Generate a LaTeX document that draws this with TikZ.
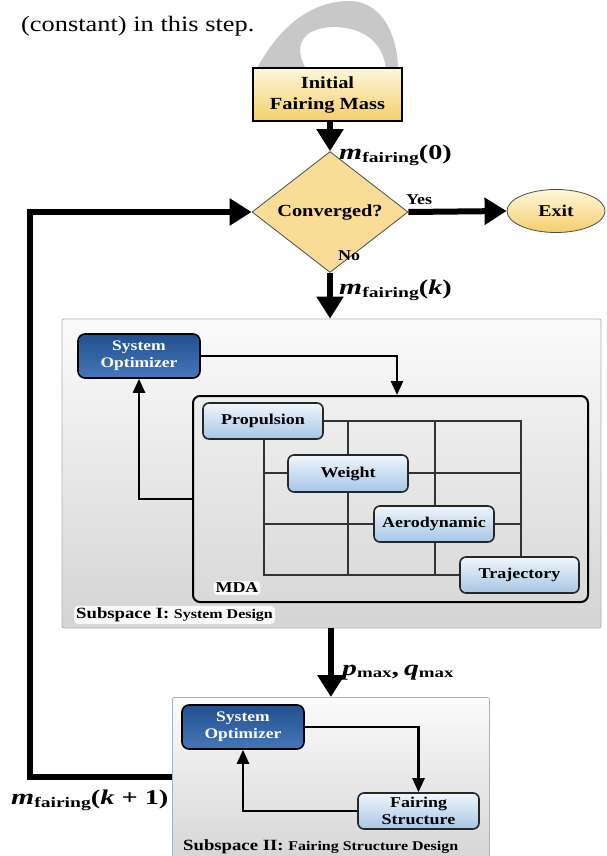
\documentclass[tikz,border=0pt]{standalone}
\usepackage{fontspec}
\setmainfont{Liberation Serif}[FakeStretch=1.2]
\newfontfamily\lblfont{Liberation Serif}[FakeStretch=1.35]
\usetikzlibrary{arrows.meta,shapes.geometric}
\definecolor{ylwT}{HTML}{FFF7D9}
\definecolor{ylwB}{HTML}{F4CE6C}
\definecolor{dia}{HTML}{F9DC95}
\definecolor{panT}{HTML}{FBFBFB}
\definecolor{panB}{HTML}{D4D4D4}
\definecolor{panE}{HTML}{A3B4C6}
\definecolor{blT}{HTML}{22508E}
\definecolor{blB}{HTML}{4677BA}
\definecolor{modT}{HTML}{F0F6FC}
\definecolor{modB}{HTML}{A6C6E6}
\definecolor{wmk}{HTML}{C8C8C8}
\newcommand{\mfair}[1]{{\lblfont\fontsize{22}{22}\selectfont\bfseries\itshape m}\raisebox{-0.6ex}{\lblfont\fontsize{14.5}{14.5}\selectfont\bfseries fairing}{\lblfont\fontsize{21}{21}\selectfont\bfseries(#1)}}
\newcommand{\pqmax}{{\lblfont\fontsize{22}{22}\selectfont\bfseries\itshape p}\raisebox{-0.45ex}{\lblfont\fontsize{14}{14}\selectfont\bfseries max}{\lblfont\fontsize{22}{22}\selectfont\bfseries,\kern5pt\itshape q}\raisebox{-0.45ex}{\lblfont\fontsize{14}{14}\selectfont\bfseries max}}
\tikzset{
  bigarrow/.style={line width=6pt,-{Triangle[width=26pt,length=22pt]}},
  bigline/.style={line width=6pt},
  smallarrow/.style={line width=2.6pt,-{Triangle[width=12pt,length=14pt]}},
  gridline/.style={line width=1.3pt,draw=black!80},
  panel/.style={draw=panE,line width=0.8pt,top color=panT,bottom color=panB,rounded corners=2pt,inner sep=0pt},
  optbox/.style={draw=black,line width=1.6pt,rounded corners=7pt,top color=blT,bottom color=blB,text=white,font=\fontsize{14.6}{17}\selectfont\bfseries,align=center,inner sep=0pt},
  modbox/.style={draw=black!85,line width=1.6pt,rounded corners=6pt,top color=modT,bottom color=modB,font=\fontsize{15}{17}\selectfont\bfseries,align=center,inner sep=0pt},
  flowlbl/.style={inner sep=0pt,anchor=west},
  yesno/.style={font=\fontsize{15}{15}\selectfont\bfseries,inner sep=0pt},
  glow/.style={fill=white,fill opacity=0.85,text opacity=1,rounded corners=4pt,inner sep=2pt}
}
\begin{document}
\begin{tikzpicture}[x=1pt,y=-1pt]
\clip (0,0) rectangle (606,856);
\fill[white] (0,0) rectangle (606,856);
% top text from page
\node[anchor=base west,inner sep=0pt,font=\fontsize{22}{22}\selectfont] (txt) at (21,32) {(constant) in this step.};
% watermark
\fill[wmk] (256,70) .. controls (280,25) and (312,1) .. (350,1) .. controls (385,2) and (398,40) .. (398,70) -- cycle;
\fill[white] (307,70) .. controls (293,48) and (300,28) .. (334,27) .. controls (370,28) and (384,48) .. (386,70) -- cycle;
% top flow
\node[draw=black,line width=1.6pt,top color=ylwT,bottom color=ylwB,minimum width=149pt,minimum height=53pt,inner sep=0pt,align=center,font=\fontsize{17}{21}\selectfont\bfseries] (init) at (327.5,94.5) {Initial\\Fairing Mass};
\node[diamond,draw=black!70,line width=0.8pt,fill=dia,minimum width=156pt,minimum height=70pt,inner sep=0pt,font=\fontsize{17}{17}\selectfont\bfseries] (conv) at (330,212) {Converged?};
\node[ellipse,draw=black!70,line width=0.8pt,top color=ylwT,bottom color=ylwB,minimum width=98pt,minimum height=43pt,inner sep=0pt,font=\fontsize{16.5}{16.5}\selectfont\bfseries] (exit) at (556,211) {Exit};
\draw[bigarrow] (init.south -| conv.north) -- (conv.north);
\node[flowlbl] (m0) at (339,155) {\mfair{0}};
\draw[bigarrow] (conv.east) -- (exit.west);
\node[yesno] (yes) at (419,200) {Yes};
\node[yesno] (no) at (349,256) {No};
\node[flowlbl] (mk) at (339,290) {\mfair{\textit{k}}};
% subspace I
\node[panel,minimum width=539pt,minimum height=309pt] (sub1) at (331.5,473.5) {};
\draw[bigarrow] (conv.south) -- (conv.south |- sub1.north);
\node[optbox,minimum width=122pt,minimum height=44pt] (so1) at (139,356) {System\\Optimizer};
\node[draw=black,line width=2pt,rounded corners=7pt,top color=black!6,bottom color=black!15,minimum width=395pt,minimum height=206pt,inner sep=0pt] (mda) at (390.5,499) {};
\coordinate (c1) at (397,356);
\draw[smallarrow] (so1.east) -- (c1) -- (c1 |- mda.north);
\draw[smallarrow] (mda.west) -| (so1.south);
% grid
\coordinate (g1) at (264,421);
\coordinate (g2) at (348,473);
\coordinate (g3) at (435,524);
\coordinate (g4) at (521,575);
\draw[gridline] (g1) rectangle (g4);
\draw[gridline] (g2 |- g1) -- (g2 |- g4);
\draw[gridline] (g3 |- g1) -- (g3 |- g4);
\draw[gridline] (g1 |- g2) -- (g4 |- g2);
\draw[gridline] (g1 |- g3) -- (g4 |- g3);
\node[modbox,minimum width=120pt,minimum height=36pt] (prop) at (263,421) {Propulsion};
\node[modbox,minimum width=120pt,minimum height=37pt] (wgt) at (348,473.5) {Weight};
\node[modbox,minimum width=120pt,minimum height=36pt] (aero) at (434,524) {Aerodynamic};
\node[modbox,minimum width=119pt,minimum height=36pt] (traj) at (519.5,575) {Trajectory};
\node[glow,font=\fontsize{15}{15}\selectfont\bfseries] (mdal) at (237,588) {MDA};
\node[glow,anchor=west,font=\bfseries] (s1l) at (74,615) {\fontsize{15.6}{16}\selectfont Subspace I: \fontsize{13.3}{14}\selectfont System Design};
% subspace II
\node[panel,minimum width=317pt,minimum height=170pt,anchor=north west] (sub2) at (172,697) {};
\draw[bigarrow] (sub1.south -| sub2.north) -- (sub2.north);
\node[flowlbl] (pq) at (342,673) {\pqmax};
\node[optbox,minimum width=122pt,minimum height=44pt] (so2) at (243,727) {System\\Optimizer};
\node[modbox,minimum width=121pt,minimum height=36pt,font=\fontsize{15}{16.5}\selectfont\bfseries] (fs) at (418.5,811) {Fairing\\Structure};
\draw[smallarrow] (so2.east) -| (fs.north);
\draw[smallarrow] (fs.west) -| (so2.south);
\node[anchor=west,inner sep=0pt,font=\bfseries] (s2l) at (183,847) {\fontsize{15.6}{16}\selectfont Subspace II: \fontsize{13.3}{14}\selectfont Fairing Structure Design};
% feedback loop
\coordinate (la) at (30,777);
\coordinate (lb) at (30,212);
\draw[bigline] (sub2.west |- la) -- (la) -- (lb) -- ([xshift=-20pt]conv.west);
\draw[bigarrow] ([xshift=-24pt]conv.west) -- (conv.west);
\node[flowlbl] (mk1) at (11,800) {\mfair{\textit{k} + 1}};
\end{tikzpicture}
\end{document}
